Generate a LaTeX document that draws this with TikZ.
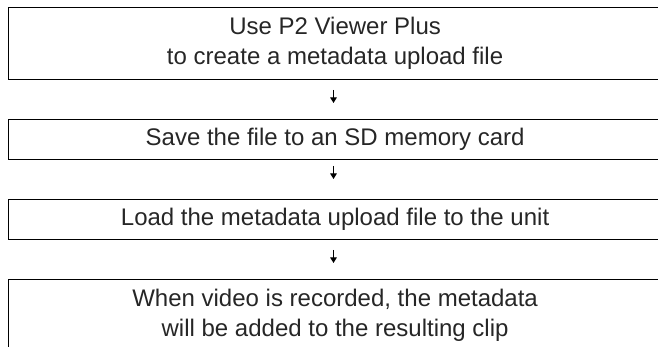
\documentclass[tikz,border=0pt]{standalone}
\usepackage{fontspec}
\setmainfont{Liberation Sans}
\usetikzlibrary{arrows.meta}
\definecolor{txt}{HTML}{262626}
\begin{document}
\begin{tikzpicture}[x=1pt,y=-1pt,
  stepbox/.style={draw=black, line width=1.2pt, anchor=north west,
    minimum width=654pt, inner sep=0pt, align=center, text=txt,
    font=\fontsize{24}{30}\selectfont},
  flow/.style={line width=1pt, -{Triangle[width=6.5pt,length=5.5pt]}}]
\useasboundingbox (0,0) rectangle (658,347);
\clip (0,0) rectangle (658,347);
\node[stepbox, minimum height=72pt] (b1) at (7.5,7) {Use P2 Viewer Plus\\to create a metadata upload file};
\node[stepbox, minimum height=40pt] (b2) at (7.5,119) {Save the file to an SD memory card};
\node[stepbox, minimum height=40pt] (b3) at (7.5,199) {Load the metadata upload file to the unit};
\node[stepbox, minimum height=72pt] (b4) at (7.5,279) {When video is recorded, the metadata\\will be added to the resulting clip};
\coordinate (a1s) at (333.5,90);  \coordinate (a1e) at (333.5,103);
\coordinate (a2s) at (333.5,166); \coordinate (a2e) at (333.5,179);
\coordinate (a3s) at (333.5,250); \coordinate (a3e) at (333.5,263);
\draw[flow] (a1s) -- (a1e);
\draw[flow] (a2s) -- (a2e);
\draw[flow] (a3s) -- (a3e);
\end{tikzpicture}
\end{document}
